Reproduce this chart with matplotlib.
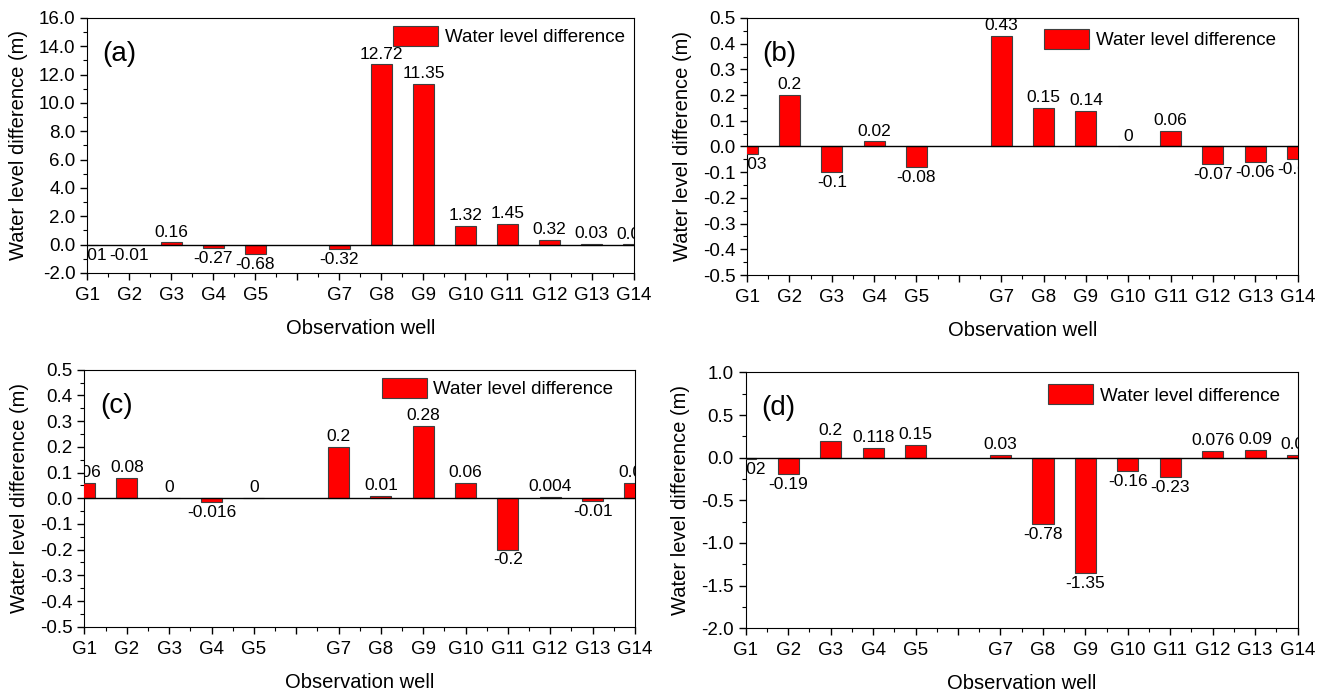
import matplotlib.pyplot as plt
from matplotlib.ticker import MultipleLocator, FormatStrFormatter, FixedLocator

plt.rcParams["font.family"] = ["Liberation Sans", "DejaVu Sans"]

# observation wells (G6 has no data, left as a gap)
wells = ["G1", "G2", "G3", "G4", "G5", "G7", "G8", "G9", "G10", "G11", "G12", "G13", "G14"]
well_pos = [1, 2, 3, 4, 5, 7, 8, 9, 10, 11, 12, 13, 14]

diff_a = [-0.01, -0.01, 0.16, -0.27, -0.68, -0.32, 12.72, 11.35, 1.32, 1.45, 0.32, 0.03, 0.02]
diff_b = [-0.03, 0.2, -0.1, 0.02, -0.08, 0.43, 0.15, 0.14, 0, 0.06, -0.07, -0.06, -0.05]
diff_c = [0.06, 0.08, 0, -0.016, 0, 0.2, 0.01, 0.28, 0.06, -0.2, 0.004, -0.01, 0.06]
diff_d = [-0.02, -0.19, 0.2, 0.118, 0.15, 0.03, -0.78, -1.35, -0.16, -0.23, 0.076, 0.09, 0.03]

fig = plt.figure(figsize=(13.2, 6.91), dpi=100)

panels = [
    # values, letter, axes rect, y limits, major step, legend anchor
    (diff_a, "(a)", [0.066, 0.605, 0.414, 0.369], (-2, 16), 2.0, (0.56, 0.969)),
    (diff_b, "(b)", [0.566, 0.602, 0.417, 0.372], (-0.5, 0.5), 0.1, (0.54, 0.957)),
    (diff_c, "(c)", [0.064, 0.093, 0.417, 0.372], (-0.5, 0.5), 0.1, (0.54, 0.968)),
    (diff_d, "(d)", [0.565, 0.091, 0.418, 0.370], (-2, 1), 0.5, (0.548, 0.953)),
]

tick_pos = list(range(1, 15))
tick_lab = [("G%d" % i if i != 6 else "") for i in tick_pos]

for vals, letter, rect, ylim, step, anchor in panels:
    ax = fig.add_axes(rect)
    bars = ax.bar(well_pos, vals, width=0.5, color="#ff0000", edgecolor="#404040",
                  linewidth=0.8, label="Water level difference", zorder=3)
    ax.axhline(0, color="black", lw=1.0, zorder=4)
    labels = ax.bar_label(bars, fmt="%g", padding=2, fontsize=12.5)
    for t in labels:
        t.set_clip_on(True)
        t.set_clip_box(ax.bbox)

    ax.set_xlim(1, 14)
    ax.set_ylim(*ylim)
    ax.xaxis.set_major_locator(FixedLocator(tick_pos))
    ax.set_xticklabels(tick_lab)
    ax.xaxis.set_minor_locator(MultipleLocator(0.5))
    ax.yaxis.set_major_locator(MultipleLocator(step))
    ax.yaxis.set_minor_locator(MultipleLocator(step / 2))
    ax.yaxis.set_major_formatter(FormatStrFormatter("%.1f"))
    ax.tick_params(which="major", direction="out", length=5, width=1, labelsize=13.5)
    ax.tick_params(axis="x", which="major", pad=5)
    ax.tick_params(which="minor", direction="out", length=3, width=0.8)

    ax.set_xlabel("Observation well", fontsize=14.5, labelpad=11)
    ax.set_ylabel("Water level difference (m)", fontsize=14.5, labelpad=8)
    ax.text(0.028, 0.86, letter, transform=ax.transAxes, fontsize=20, va="center")

    ax.legend(loc="upper left", bbox_to_anchor=anchor, frameon=False, fontsize=13.5,
              handlelength=2.4, handleheight=1.25, handletextpad=0.36,
              borderpad=0, borderaxespad=0)

fig.savefig("out.png", dpi=100)
